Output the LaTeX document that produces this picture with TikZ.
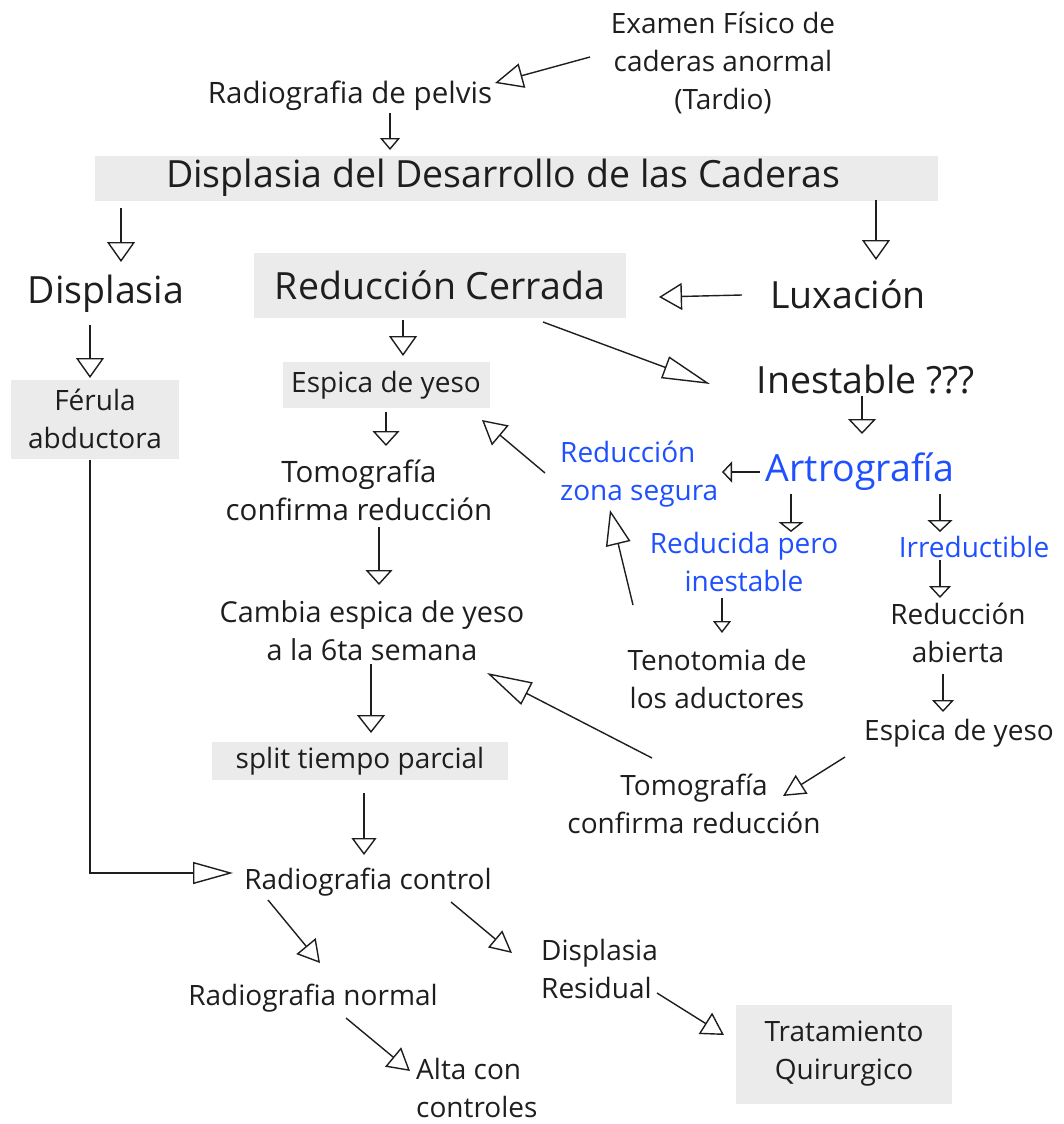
\documentclass[tikz,border=0pt]{standalone}
\usepackage{fontspec}
\setmainfont{Open Sans}
\usetikzlibrary{arrows.meta,calc}
\definecolor{boxgray}{HTML}{EBEBEB}
\definecolor{txt}{HTML}{1E1E1E}
\definecolor{blu}{HTML}{1E50FF}
\tikzset{
  lbl/.style={align=center,inner sep=0pt,text=txt,font=\fontsize{28}{38}\selectfont},
  lblb/.style={lbl,font=\fontsize{29.5}{38}\selectfont},
  lblleft/.style={lbl,align=left,anchor=west},
  big/.style={align=center,inner sep=0pt,text=txt,font=\fontsize{37.5}{44}\selectfont},
  bluelbl/.style={lbl,text=blu},
  ah/.style 2 args={-{Triangle[open,length=#1,width=#2]},line width=1.4pt,draw=txt},
}
\begin{document}
\begin{tikzpicture}[x=1pt,y=-1pt]
\useasboundingbox (0,0) rectangle (1063,1124);
% boxes
\node[fill=boxgray,minimum width=843,minimum height=45,inner sep=0] (ti) at (516,178) {};
\node[text=txt,font=\fontsize{37.5}{44}\selectfont,inner sep=0] at (503,178) {Displasia del Desarrollo de las Caderas};
\node[fill=boxgray,minimum width=372,minimum height=65,big] (rc) at (440,285) {Reducción Cerrada};
\node[fill=boxgray,minimum width=207,minimum height=46,lbl] (esp) at (386,385) {Espica de yeso};
\node[fill=boxgray,minimum width=168,minimum height=79,lbl] (fer) at (95,419) {Férula\\abductora};
\node[fill=boxgray,minimum width=296,minimum height=38,lbl] (spl) at (360,761) {split tiempo parcial};
\node[fill=boxgray,minimum width=216,minimum height=99,lbl] (trat) at (844,1054) {Tratamiento\\Quirurgico};
% plain labels
\node[lbl] (exa) at (723,63) {Examen Físico de\\caderas anormal\\(Tardio)};
\node[lblb] (pel) at (350,96) {Radiografia de pelvis};
\node[big] (disp) at (106,294) {Displasia};
\node[big] (lux) at (848,294) {Luxación};
\node[big] (ine) at (866,380) {Inestable ???};
\node[bluelbl,align=left,anchor=west] (zs) at (560,474) {Reducción\\zona segura};
\node[big,text=blu] (art) at (860,472) {Artrografía};
\node[lblb] (tom) at (359,490) {Tomografía\\confirma reducción};
\node[bluelbl] (red) at (744,562) {Reducida pero\\inestable};
\node[bluelbl] (irr) at (974,547) {Irreductible};
\node[lbl,font=\fontsize{28.8}{38}\selectfont] (cam) at (372,631) {Cambia espica de yeso\\a la 6ta semana};
\node[lbl] (ten) at (717,679) {Tenotomia de\\los aductores};
\node[lbl] (rab) at (958,633) {Reducción\\abierta};
\node[lbl] (esp2) at (959,733) {Espica de yeso};
\node[lbl] (tom2) at (694,804) {Tomografía\\confirma reducción};
\node[lbl] (rc2) at (368,882) {Radiografia control};
\node[lblleft] (dres) at (541,969) {Displasia\\Residual};
\node[lbl] (rnor) at (313,998) {Radiografia normal};
\node[lblleft] (alta) at (416,1088) {Alta con\\controles};
% connectors
\draw[ah={28}{25}] ([shift={(-133,-6)}]exa.center) -- ([shift={(145,-13)}]pel.center);
\draw[ah={12}{20}] ([shift={(40,17)}]pel.center) -- ([shift={(-126,-28)}]ti.center);
\draw[ah={20}{28}] ([shift={(-395,30)}]ti.center) -- ([shift={(15,-32)}]disp.center);
\draw[ah={20}{28}] ([shift={(360,22)}]ti.center) -- ([shift={(28,-34)}]lux.center);
\draw[ah={23}{27}] ([shift={(-106,1)}]lux.center) -- ([shift={(219,12)}]rc.center);
\draw[ah={20}{28}] ([shift={(-37,35)}]rc.center) -- ([shift={(17,-29)}]esp.center);
\draw[ah={48}{23}] ([shift={(103,37)}]rc.center) -- ([shift={(-156,4)}]ine.center);
\draw[ah={20}{28}] ([shift={(-16,31)}]disp.center) -- ([shift={(-5,-41)}]fer.center);
\draw[ah={15}{28}] ([shift={(-4,16)}]ine.center) -- ([shift={(2,-38)}]art.center);
\draw[ah={15}{27}] ([shift={(0,27)}]esp.center) -- ([shift={(27,-44)}]tom.center);
\draw[ah={24}{26}] ([shift={(-15,-1)}]zs.west) -- ([shift={(96,35)}]esp.center);
\draw[ah={10}{21}] ([shift={(-100,0)}]art.center) -- ([shift={(162,-2)}]zs.west);
\draw[ah={10}{25}] ([shift={(-69,22)}]art.center) -- ([shift={(47,-30)}]red.center);
\draw[ah={12}{25}] ([shift={(80,22)}]art.center) -- ([shift={(-34,-15)}]irr.center);
\draw[ah={35}{25}] ([shift={(-84,-74)}]ten.center) -- ([shift={(50,36)}]zs.west);
\draw[ah={15}{27}] ([shift={(20,37)}]tom.center) -- ([shift={(7,-46)}]cam.center);
\draw[ah={12}{18}] ([shift={(-22,36)}]red.center) -- ([shift={(5,-46)}]ten.center);
\draw[ah={12}{22}] ([shift={(-34,13)}]irr.center) -- ([shift={(-18,-35)}]rab.center);
\draw[ah={18}{28}] ([shift={(-1,33)}]cam.center) -- ([shift={(11,-28)}]spl.center);
\draw[ah={45}{25}] ([shift={(-42,-46)}]tom2.center) -- ([shift={(115,42)}]cam.center);
\draw[ah={12}{22}] ([shift={(-15,41)}]rab.center) -- ([shift={(-16,-21)}]esp2.center);
\draw[ah={22}{22}] ([shift={(-114,24)}]esp2.center) -- ([shift={(89,-8)}]tom2.center);
\draw[ah={17}{25}] ([shift={(4,32)}]spl.center) -- ([shift={(-4,-27)}]rc2.center);
\draw[ah={40}{22}] ([shift={(-5,41)}]fer.center) |- ([shift={(-135,-9)}]rc2.center);
\draw[ah={22}{25}] ([shift={(-100,18)}]rc2.center) -- ([shift={(7,-35)}]rnor.center);
\draw[ah={22}{22}] ([shift={(83,20)}]rc2.center) -- ([shift={(-29,-16)}]dres.west);
\draw[ah={22}{25}] ([shift={(116,24)}]dres.west) -- ([shift={(-120,-19)}]trat.center);
\draw[ah={22}{25}] ([shift={(33,20)}]rnor.center) -- ([shift={(-6,-17)}]alta.west);
\end{tikzpicture}
\end{document}
